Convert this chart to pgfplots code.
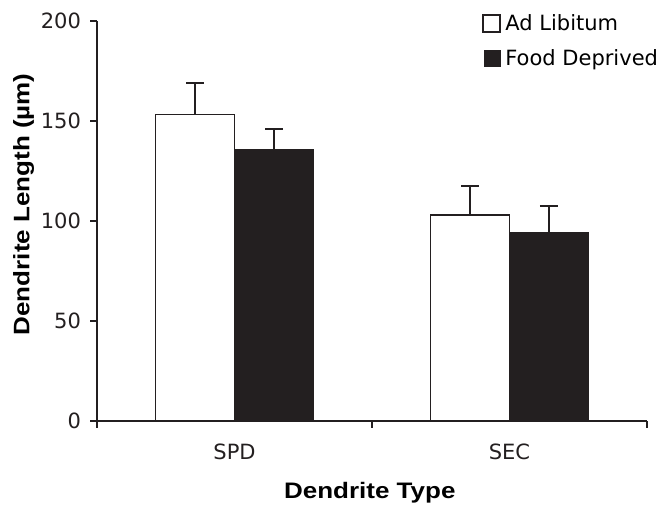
\documentclass[border=0pt]{standalone}
\usepackage{pgfplots}
\pgfplotsset{compat=1.18}
\usepackage{fontspec}
\setmainfont{DejaVu Sans}
\newfontfamily\labfont[FakeStretch=1.16]{Liberation Sans}
\definecolor{barblk}{HTML}{231F20}
\begin{document}
\begin{tikzpicture}
\begin{axis}[
  scale only axis, width=275pt, height=200pt,
  xmin=-0.5, xmax=1.5, ymin=0, ymax=200,
  axis x line*=bottom, axis y line*=left,
  axis line style={-, line width=1pt, draw=barblk},
  ytick={0,50,100,150,200},
  xtick={-0.5,0.5,1.5}, xticklabels={},
  extra x ticks={0,1}, extra x tick labels={SPD,SEC},
  extra x tick style={major tick length=0pt},
  tick align=outside, major tick length=3.5pt,
  tick style={line width=1pt, color=barblk},
  /pgf/number format/assume math mode=true,
  ticklabel style={font=\fontsize{10.5}{12}\selectfont, text=barblk},
  xticklabel style={yshift=-8pt},
  yticklabel style={xshift=-1pt},
  xlabel={Dendrite Type}, ylabel={Dendrite Length (µm)},
  label style={font=\labfont\bfseries\fontsize{11.2}{13}\selectfont, text=black},
  xlabel style={at={(axis description cs:0.496,-0.194)}, anchor=base},
  ylabel style={at={(axis description cs:-0.123,0.541)}, anchor=base},
  ybar, bar width=39.5pt,
  error bars/y dir=plus, error bars/y explicit,
  error bars/error bar style={line width=1pt, color=barblk},
  error bars/error mark options={rotate=90, line width=1pt, color=barblk, mark size=4.5pt},
  legend style={draw=none, fill=none, at={(rel axis cs:0.70,1.027)}, anchor=north west,
    font=\fontsize{10.5}{12}\selectfont, row sep=4pt, inner sep=0pt},
  legend cell align=left,
]
\addplot[draw=barblk, line width=0.6pt, fill=white, bar shift=-19.75pt,
  legend image code/.code={\draw[draw=barblk, fill=white, line width=1pt] (0.5pt,-4.25pt) rectangle (9pt,4.25pt);}]
  coordinates {(0,153.3) +- (0,15.5) (1,102.9) +- (0,14.5)};
\addplot[draw=barblk, line width=0.6pt, fill=barblk, bar shift=19.75pt,
  legend image code/.code={\fill[barblk] (1pt,-4pt) rectangle (9pt,4pt);}]
  coordinates {(0,135.4) +- (0,10.4) (1,94.2) +- (0,13.3)};
\legend{Ad Libitum, Food Deprived}
\coordinate (bbsw) at (rel axis cs:-0.1764,-0.2108);
\coordinate (bbne) at (rel axis cs:1.0291,1.0518);
\end{axis}
\pgfresetboundingbox
\path[use as bounding box] (bbsw) rectangle (bbne);
\end{tikzpicture}
\end{document}
